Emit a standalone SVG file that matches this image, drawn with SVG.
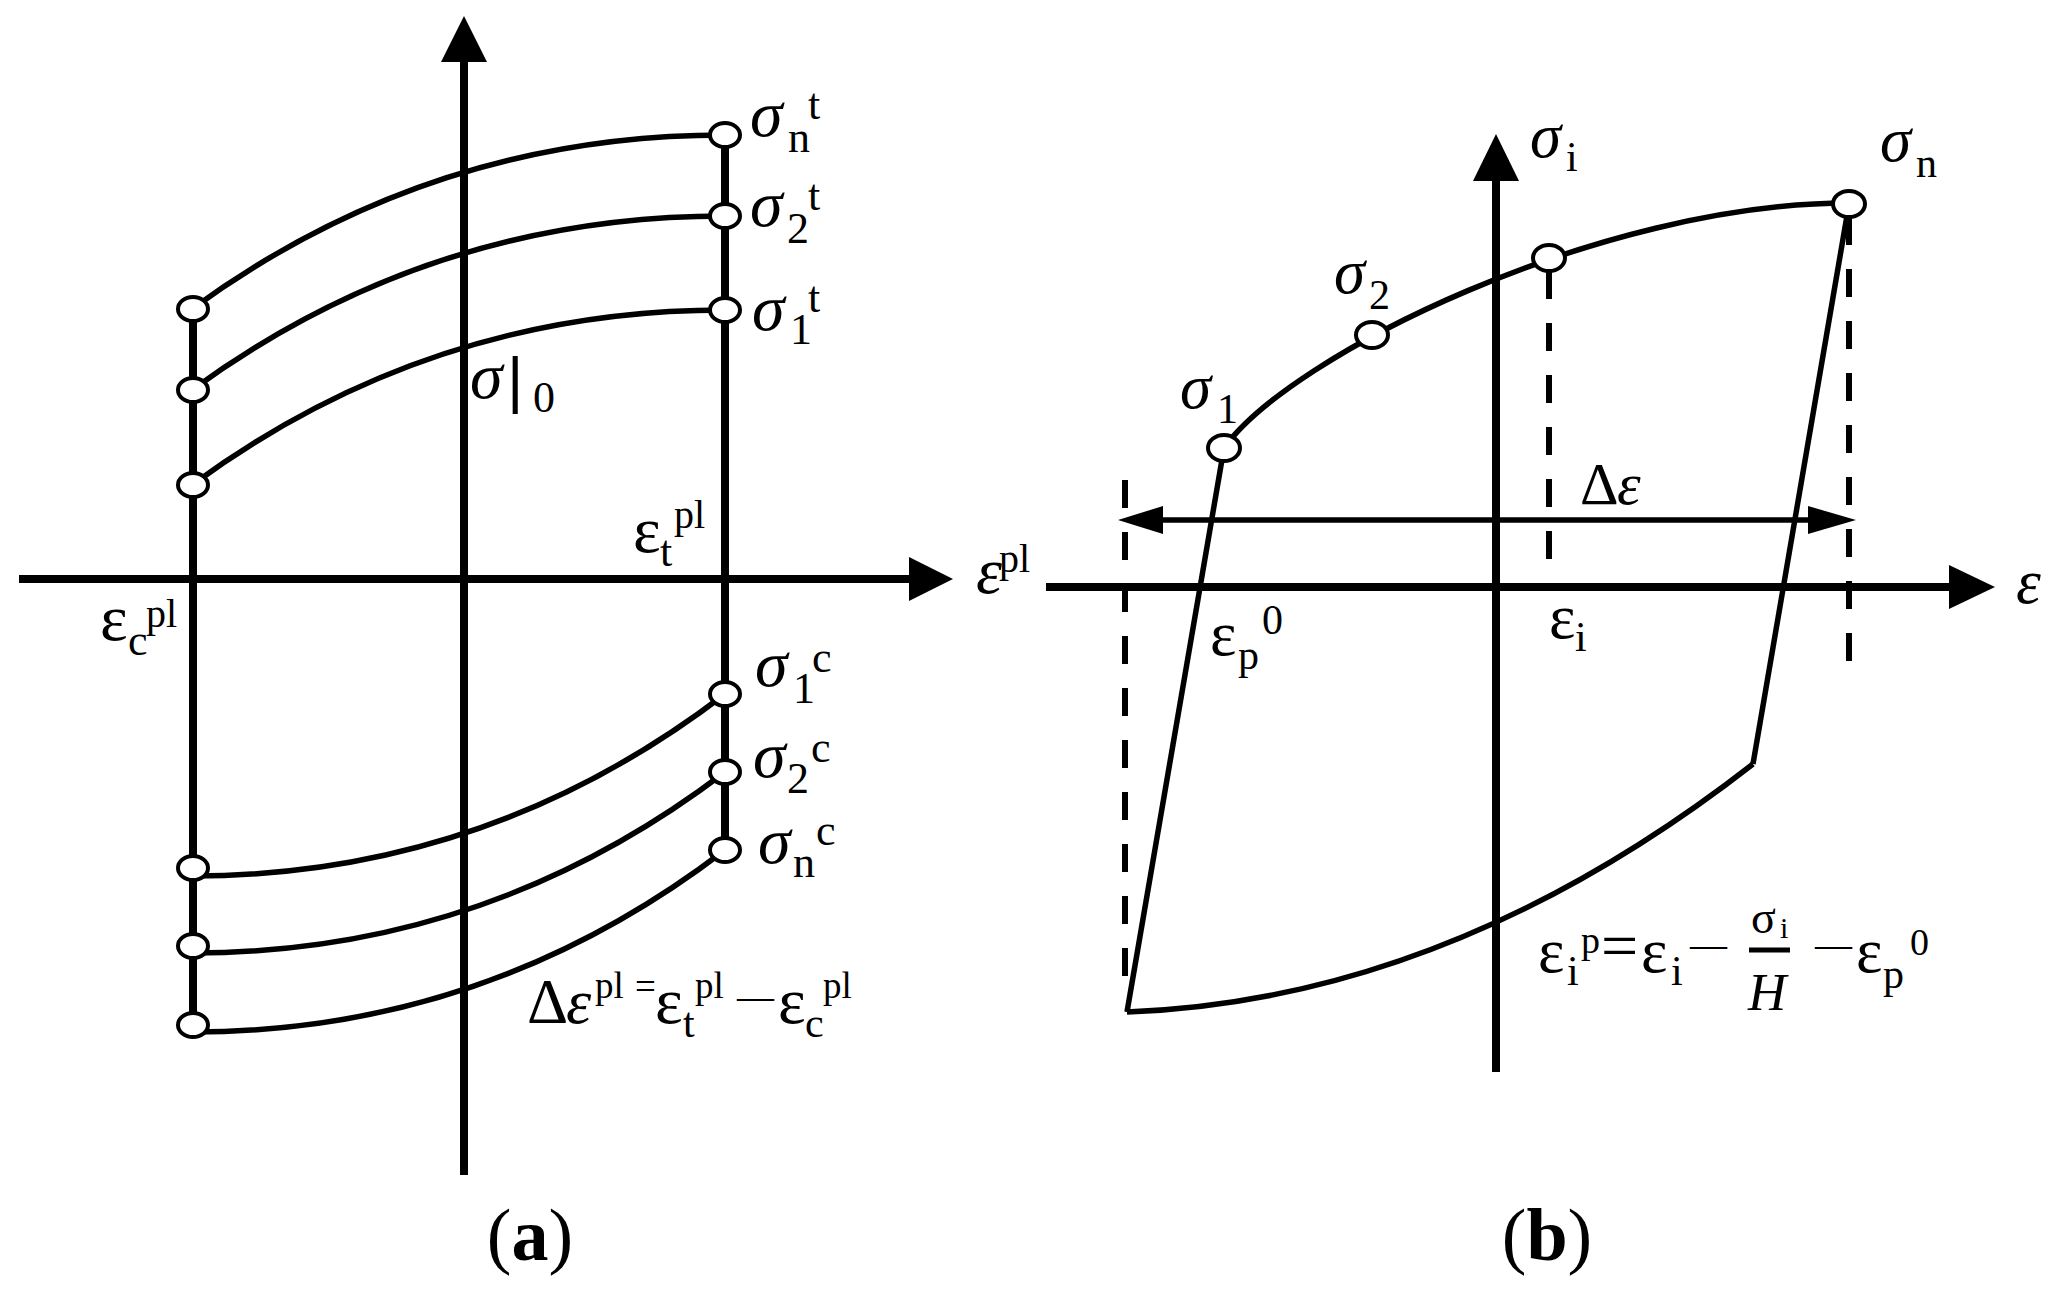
<svg xmlns="http://www.w3.org/2000/svg" width="2061" height="1292" viewBox="0 0 2061 1292">
<style>
  .ax{stroke:#000;stroke-width:8;fill:none}
  .ln{stroke:#000;stroke-width:5.5;fill:none}
  .lnb{stroke:#000;stroke-width:5.5;fill:none}
  .pt{fill:#fff;stroke:#000;stroke-width:4}
  .dash{stroke:#000;stroke-width:6;fill:none;stroke-dasharray:28 24}
  .ah{fill:#000}
  text{font-family:"Liberation Serif","Times New Roman",serif;fill:#000}
  .it{font-style:italic}
  .b{font-size:66px}
  .bb{font-size:63px}
  .s{font-size:44px}
  .sb{font-size:42px}
  .ps{font-size:40px}
  .pf{font-size:37px}
  .cap{font-size:74px}
</style>
<rect width="2061" height="1292" fill="#fff"/>

<g id="panel-a">
  <g id="a-connectors">
    <line class="ax" x1="464" y1="1175" x2="464" y2="58"/>
    <polygon class="ah" points="464,16 441,62 487,62"/>
    <line class="ax" x1="19" y1="579" x2="912" y2="579"/>
    <polygon class="ah" points="953,579 909,557 909,601"/>
    <line class="ax" x1="193" y1="309" x2="193" y2="1025"/>
    <line class="ax" x1="725" y1="135" x2="725" y2="850"/>
    <path class="ln" d="M192,309 Q430,135 725,135"/>
    <path class="ln" d="M192,390 Q430,216 725,216"/>
    <path class="ln" d="M192,485 Q430,310 725,310"/>
    <path class="ln" d="M192,876 Q487,876 725,694"/>
    <path class="ln" d="M192,953 Q487,953 725,772"/>
    <path class="ln" d="M192,1032 Q487,1032 725,850"/>
  </g>
  <g id="a-points">
    <ellipse id="a-pt-n-t" class="pt" cx="725" cy="135" rx="15" ry="12"/>
    <ellipse id="a-pt-2-t" class="pt" cx="725" cy="216" rx="15" ry="12"/>
    <ellipse id="a-pt-1-t" class="pt" cx="725" cy="310" rx="15" ry="12"/>
    <ellipse id="a-pt-l1" class="pt" cx="193" cy="309" rx="15" ry="12"/>
    <ellipse id="a-pt-l2" class="pt" cx="193" cy="390" rx="15" ry="12"/>
    <ellipse id="a-pt-l3" class="pt" cx="193" cy="485" rx="15" ry="12"/>
    <ellipse id="a-pt-1-c" class="pt" cx="725" cy="694" rx="15" ry="12"/>
    <ellipse id="a-pt-2-c" class="pt" cx="725" cy="772" rx="15" ry="12"/>
    <ellipse id="a-pt-n-c" class="pt" cx="725" cy="850" rx="15" ry="12"/>
    <ellipse id="a-pt-l4" class="pt" cx="193" cy="868" rx="15" ry="12"/>
    <ellipse id="a-pt-l5" class="pt" cx="193" cy="946" rx="15" ry="12"/>
    <ellipse id="a-pt-l6" class="pt" cx="193" cy="1025" rx="15" ry="12"/>
  </g>
  <g id="a-labels">
    <text class="it b" x="750" y="136">σ</text><text class="s" x="788" y="152">n</text><text class="s" x="808" y="119">t</text>
    <text class="it b" x="750" y="226">σ</text><text class="s" x="787" y="243">2</text><text class="s" x="808" y="210">t</text>
    <text class="it b" x="752" y="330">σ</text><text class="s" x="790" y="344">1</text><text class="s" x="808" y="312">t</text>
    <text class="it b" x="470" y="398">σ</text><text style="font-size:62px" stroke="#000" stroke-width="2" x="509" y="400">|</text><text class="s" x="533" y="412">0</text>
    <text class="b" x="633" y="552">ε</text><text class="s" x="660" y="566">t</text><text class="ps" x="674" y="528">pl</text>
    <text class="b" x="100" y="640">ε</text><text class="s" x="128" y="655">c</text><text class="ps" x="146" y="627">pl</text>
    <text class="it b" x="976" y="593">ε</text><text class="ps" x="999" y="572">pl</text>
    <text class="it b" x="755" y="686">σ</text><text class="s" x="793" y="703">1</text><text class="s" x="812" y="672">c</text>
    <text class="it b" x="753" y="777">σ</text><text class="s" x="787" y="793">2</text><text class="s" x="811" y="762">c</text>
    <text class="it b" x="758" y="863">σ</text><text class="s" x="793" y="877">n</text><text class="s" x="816" y="845">c</text>
    <text style="font-size:64px" x="527" y="1023">Δ</text><text class="it" style="font-size:64px" x="566" y="1023">ε</text><text class="pf" x="595" y="998">pl</text><text class="pf" x="635" y="999">=</text><text class="b" x="655" y="1023">ε</text><text class="sb" x="683" y="1037">t</text><text class="pf" x="695" y="998">pl</text><text style="font-size:37px" x="737" y="1009">—</text><text class="b" x="778" y="1023">ε</text><text class="sb" x="805" y="1037">c</text><text class="pf" x="823" y="998">pl</text>
    <text class="cap" x="530" y="1260" text-anchor="middle">(<tspan font-weight="bold">a</tspan>)</text>
  </g>
</g>

<g id="panel-b">
  <g id="b-connectors">
    <line class="ax" x1="1496" y1="1072" x2="1496" y2="178"/>
    <polygon class="ah" points="1496,134 1473,181 1519,181"/>
    <line class="ax" x1="1046" y1="587" x2="1952" y2="587"/>
    <polygon class="ah" points="1995,587 1949,565 1949,609"/>
    <line class="dash" x1="1125" y1="480" x2="1125" y2="984"/>
    <line class="dash" x1="1549" y1="271" x2="1549" y2="565"/>
    <line class="dash" x1="1849" y1="217" x2="1849" y2="668"/>
    <line class="lnb" x1="1160" y1="520" x2="1811" y2="520"/>
    <polygon class="ah" points="1118,520 1163,506 1163,534"/>
    <polygon class="ah" points="1856,520 1808,506 1808,534"/>
    <path class="lnb" d="M1224,448 C1290,355 1600,203 1849,203"/>
    <path class="lnb" d="M1224,448 L1127,1012"/>
    <path class="lnb" d="M1127,1012 Q1450,1000 1753,764"/>
    <path class="lnb" d="M1849,204 L1753,764"/>
  </g>
  <g id="b-points">
    <ellipse id="b-pt-1" class="pt" cx="1224" cy="448" rx="16" ry="13"/>
    <ellipse id="b-pt-2" class="pt" cx="1372" cy="335" rx="16" ry="13"/>
    <ellipse id="b-pt-i" class="pt" cx="1549" cy="258" rx="16" ry="13"/>
    <ellipse id="b-pt-n" class="pt" cx="1849" cy="204" rx="16" ry="13"/>
  </g>
  <g id="b-labels">
    <text class="it bb" x="1530" y="157">σ</text><text class="sb" x="1566" y="171">i</text>
    <text class="it bb" x="1880" y="161">σ</text><text class="sb" x="1916" y="177">n</text>
    <text class="it bb" x="1334" y="293">σ</text><text class="sb" x="1369" y="309">2</text>
    <text class="it bb" x="1180" y="408">σ</text><text class="sb" x="1217" y="423">1</text>
    <text style="font-size:60px" x="1580" y="504">Δ</text><text class="it" style="font-size:60px" x="1617" y="504">ε</text>
    <text class="it bb" x="2016" y="603">ε</text>
    <text class="bb" x="1210" y="655">ε</text><text class="sb" x="1238" y="669">p</text><text class="sb" x="1262" y="634">0</text>
    <text class="bb" x="1549" y="638">ε</text><text class="sb" x="1575" y="651">i</text>
    <text class="bb" x="1538" y="972">ε</text><text class="sb" x="1567" y="985">i</text><text style="font-size:38px" x="1581" y="953">p</text><text style="font-size:66px" x="1601" y="968">=</text><text class="bb" x="1641" y="972">ε</text><text class="sb" x="1671" y="985">i</text><text style="font-size:37px" x="1690" y="957">—</text>
    <text style="font-size:46px" x="1751" y="933">σ</text><text style="font-size:30px" x="1780" y="938">i</text>
    <line x1="1749" y1="950" x2="1790" y2="950" stroke="#000" stroke-width="5"/>
    <text class="it" style="font-size:53px" x="1748" y="1010">H</text>
    <text style="font-size:37px" x="1815" y="957">—</text><text class="bb" x="1856" y="972">ε</text><text class="sb" x="1883" y="988">p</text><text style="font-size:38px" x="1910" y="955">0</text>
    <text class="cap" x="1547" y="1260" text-anchor="middle">(<tspan font-weight="bold">b</tspan>)</text>
  </g>
</g>
</svg>
